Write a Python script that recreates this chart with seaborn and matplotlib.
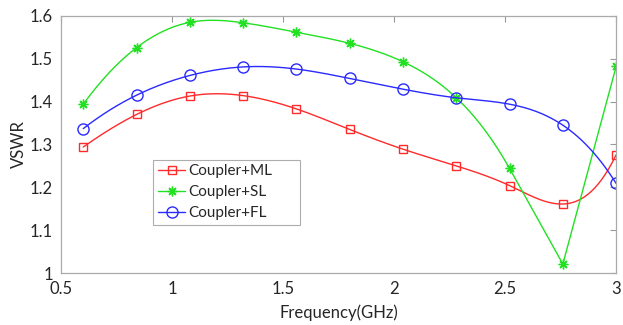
import numpy as np
import matplotlib
matplotlib.use("Agg")
import matplotlib.pyplot as plt
import seaborn as sns
from matplotlib.lines import Line2D

freq = [0.60, 0.84, 1.08, 1.32, 1.56, 1.80, 2.04, 2.28, 2.52, 2.76, 3.00]
vswr_ml = [1.294, 1.370, 1.413, 1.414, 1.383, 1.335, 1.289, 1.250, 1.204, 1.161, 1.276]
vswr_sl = [1.394, 1.526, 1.585, 1.584, 1.562, 1.536, 1.493, 1.409, 1.244, 1.021, 1.482]
vswr_fl = [1.337, 1.415, 1.461, 1.481, 1.476, 1.454, 1.429, 1.409, 1.394, 1.345, 1.209]
labels = ["Coupler+ML", "Coupler+SL", "Coupler+FL"]
xticks = [0.5, 1, 1.5, 2, 2.5, 3]
yticks = [1, 1.1, 1.2, 1.3, 1.4, 1.5, 1.6]


def spline_notaknot(x, y, xq):
    x = np.asarray(x, float); y = np.asarray(y, float)
    n = len(x)
    h = np.diff(x)
    A = np.zeros((n, n)); b = np.zeros(n)
    A[0, 0] = h[1]; A[0, 1] = -(h[0] + h[1]); A[0, 2] = h[0]
    A[-1, -3] = h[-1]; A[-1, -2] = -(h[-2] + h[-1]); A[-1, -1] = h[-2]
    for i in range(1, n - 1):
        A[i, i - 1] = h[i - 1]
        A[i, i] = 2 * (h[i - 1] + h[i])
        A[i, i + 1] = h[i]
        b[i] = 6 * ((y[i + 1] - y[i]) / h[i] - (y[i] - y[i - 1]) / h[i - 1])
    M = np.linalg.solve(A, b)
    idx = np.clip(np.searchsorted(x, xq) - 1, 0, n - 2)
    xi, xi1 = x[idx], x[idx + 1]
    hi = xi1 - xi
    t1 = xi1 - xq; t0 = xq - xi
    return (M[idx] * t1**3 / (6 * hi) + M[idx + 1] * t0**3 / (6 * hi)
            + (y[idx] / hi - M[idx] * hi / 6) * t1
            + (y[idx + 1] / hi - M[idx + 1] * hi / 6) * t0)


def curve(x, y, n_lin=0):
    # smooth spline through the points; the last n_lin segments straight
    x = list(x); y = list(y)
    k = len(x) - n_lin
    xs = np.linspace(x[0], x[k - 1], 400)
    ys = spline_notaknot(x[:k], y[:k], xs)
    if n_lin:
        xs = np.concatenate([xs, x[k:]])
        ys = np.concatenate([ys, y[k:]])
    return xs, ys


sns.set_style("white")
plt.rcParams['font.family'] = ['Lato', 'DejaVu Sans']

fig = plt.figure(figsize=(6.23, 3.25), dpi=100)
ax = fig.add_axes([0.098, 0.16, 0.891, 0.791])

series = [vswr_ml, vswr_sl, vswr_fl]
colors = ["#ff2a2a", "#22e022", "#2a2aff"]
markers = ["s", (8, 2, 0), "o"]
msizes = [6, 7, 8]
linear_tail = [0, 2, 0]

handles = []
for vals, c, m, ms, lab, nl in zip(series, colors, markers, msizes, labels, linear_tail):
    xd, yd = curve(freq, vals, nl)
    sns.lineplot(x=xd, y=yd, ax=ax, color=c, lw=1.0, legend=False, sort=False)
    ax.plot(freq, vals, linestyle="none", marker=m, ms=ms, mfc="none",
            mec=c, mew=1.0)
    handles.append(Line2D([0], [0], color=c, lw=1.0, marker=m, ms=ms,
                          mfc="none", mec=c, mew=1.0))

ax.set_xlim(0.5, 3)
ax.set_ylim(1, 1.6)
ax.set_xticks(xticks)
ax.set_xticklabels([f"{t:g}" for t in xticks])
ax.set_yticks(yticks)
ax.set_yticklabels([f"{t:g}" for t in yticks])
ax.tick_params(direction="in", length=4, width=0.8, color="#999999",
               labelsize=12, labelcolor="#262626", top=True, right=True,
               pad=6)
for s in ax.spines.values():
    s.set_color("#aaaaaa")
    s.set_linewidth(0.9)
ax.set_xlabel("Frequency(GHz)", fontsize=12, color="#262626", labelpad=5)
ax.set_ylabel("VSWR", fontsize=12, color="#262626", labelpad=2)

leg = ax.legend(handles, labels, loc="upper left",
                bbox_to_anchor=(0.166, 0.198, 0.265, 0.242), mode="expand",
                fontsize=11, frameon=True, fancybox=False, handlelength=1.8,
                handletextpad=0.2, borderpad=0.3, labelspacing=0.45,
                borderaxespad=0)
leg.get_frame().set_edgecolor("#999999")
leg.get_frame().set_linewidth(0.8)
for t in leg.get_texts():
    t.set_color("#262626")

fig.savefig("out.png", dpi=100)
